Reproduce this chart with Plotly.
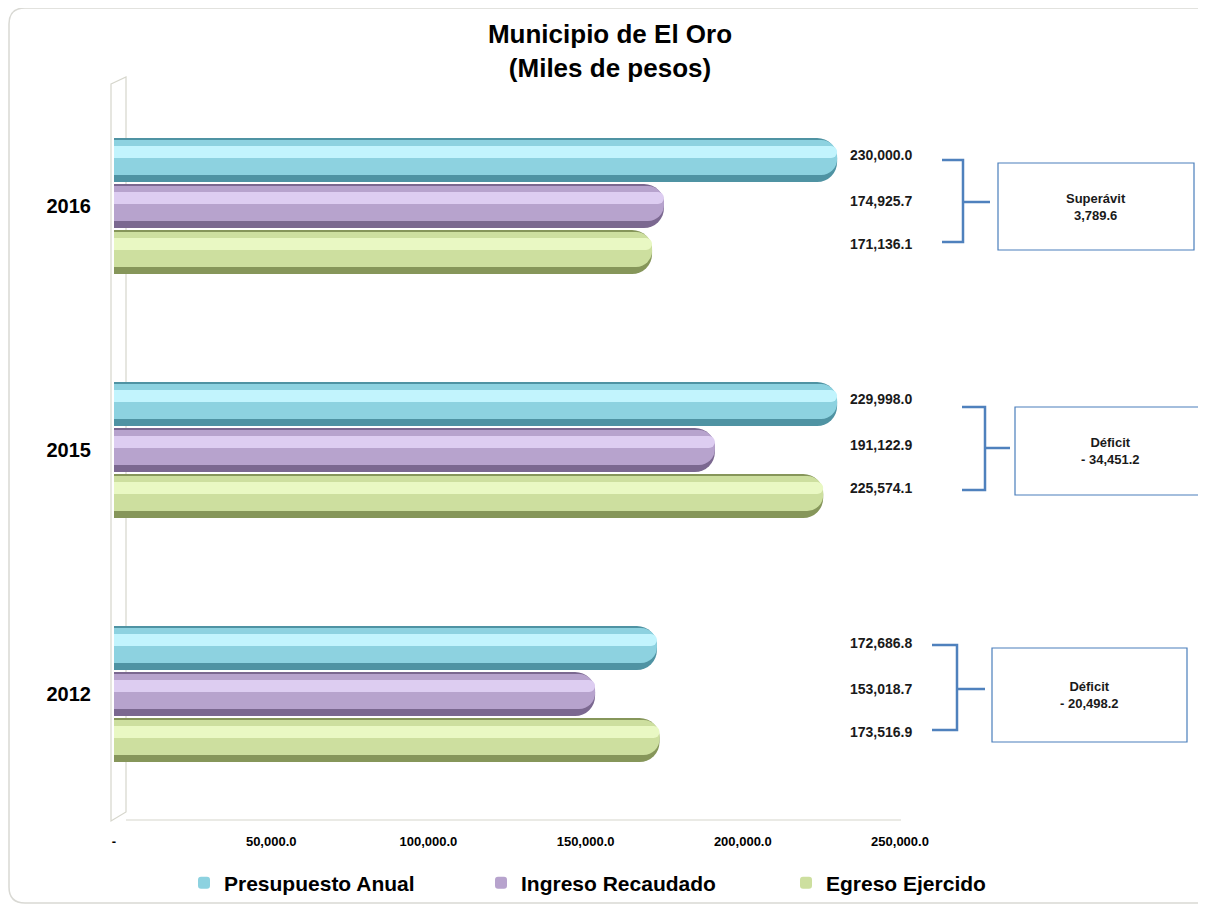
import plotly.graph_objects as go

# ---------------- data ----------------
years = ["2016", "2015", "2012"]
series_names = ["Presupuesto Anual", "Ingreso Recaudado", "Egreso Ejercido"]
presupuesto = [230000.0, 229998.0, 172686.8]
ingreso = [174925.7, 191122.9, 153018.7]
egreso = [171136.1, 225574.1, 173516.9]
x_tick_vals = [0, 50000, 100000, 150000, 200000, 250000]
x_tick_text = ["-", "50,000.0", "100,000.0", "150,000.0", "200,000.0", "250,000.0"]
box_labels = ["Superávit", "Déficit", "Déficit"]

values = [presupuesto, ingreso, egreso]

# ---------------- layout geometry (page pixels) ----------------
PAGE_OFF = 8                      # default body margin of the html page
W_FIG, H_FIG = 1206 - PAGE_OFF, 907 - PAGE_OFF
L, R, T, B = 114, 900, 84, 816    # plot area in page pixels
PW, PH = R - L, B - T
PX_PER_UNIT = PH / 3.0


def X(p):
    return (p - L) / PW


def Y(p):
    return (B - p) / PH


def CX(p):
    return (p - PAGE_OFF) / W_FIG


def CY(p):
    return 1 - (p - PAGE_OFF) / H_FIG


base_cols = ["#4f93a3", "#7b6890", "#86965a"]
body_cols = ["#8dd2e0", "#b7a3cd", "#cddf9f"]
hl_cols = ["#c2f4fd", "#ddcdf1", "#e9f8c3"]
legend_ids = ["legend", "legend2", "legend3"]
legend_x_px = [184, 481, 786]

font_family = "Liberation Sans, Arial, sans-serif"

cat_pos = list(range(len(years)))
bar_w = 44 / PX_PER_UNIT
step = 46 / PX_PER_UNIT

fig = go.Figure()
for i, (name, vals) in enumerate(zip(series_names, values)):
    top_off = (i - 1) * step - bar_w / 2
    fig.add_trace(go.Bar(
        y=cat_pos, x=vals, orientation="h", name=name, width=bar_w, offset=top_off,
        marker=dict(color=base_cols[i], cornerradius=20, line=dict(width=0)),
        showlegend=False, legendgroup=name, hoverinfo="skip", legend=legend_ids[i]))
    fig.add_trace(go.Bar(
        y=cat_pos, x=vals, orientation="h", name=name, width=(44 - 9) / PX_PER_UNIT,
        offset=top_off + 2 / PX_PER_UNIT,
        marker=dict(color=body_cols[i], cornerradius=16, line=dict(width=0)),
        showlegend=True, legendgroup=name, legend=legend_ids[i]))
    fig.add_trace(go.Bar(
        y=cat_pos, x=vals, orientation="h", name=name, width=12 / PX_PER_UNIT,
        offset=top_off + 8 / PX_PER_UNIT,
        marker=dict(color=hl_cols[i], cornerradius=6, line=dict(width=0)),
        showlegend=False, legendgroup=name, hoverinfo="skip", legend=legend_ids[i]))

annotations = []
shapes = []

# value labels in a fixed column
label_off_px = [-51, -5, 38]
for j, yc in enumerate(cat_pos):
    for i in range(3):
        v = values[i][j]
        annotations.append(dict(
            x=X(881), xref="paper", xanchor="center",
            y=yc + label_off_px[i] / PX_PER_UNIT, yref="y", yanchor="middle",
            text="<b>{:,.1f}</b>".format(v), showarrow=False,
            font=dict(size=14, color="#1a1a1a", family=font_family)))

# brackets and boxes (page pixel layout per group)
brackets = [
    # stub_x0, vert_x, mid_x1, top_y, bot_y, mid_y, box(x0,y0,x1,y1)
    (942, 963, 990, 160, 242, 202, (998, 163, 1194, 250)),
    (962, 985, 1010, 407, 490, 448, (1015, 407, 1212, 495)),
    (932, 957, 985, 645, 730, 689, (992, 648, 1187, 742)),
]
bcol = "#4f81bd"
for j, (sx, vx, mx, ty, by, my, box) in enumerate(brackets):
    path = "M {},{} L {},{} L {},{} L {},{}".format(
        X(sx), Y(ty), X(vx), Y(ty), X(vx), Y(by), X(sx), Y(by))
    shapes.append(dict(type="path", xref="paper", yref="paper", path=path,
                       line=dict(color=bcol, width=2.5)))
    shapes.append(dict(type="line", xref="paper", yref="paper",
                       x0=X(vx), y0=Y(my), x1=X(mx), y1=Y(my),
                       line=dict(color=bcol, width=2.5)))
    bx0, by0, bx1, by1 = box
    shapes.append(dict(type="rect", xref="paper", yref="paper",
                       x0=X(bx0), y0=Y(by0), x1=X(bx1), y1=Y(by1),
                       line=dict(color="#4a7ebb", width=1.2), fillcolor="white"))
    diff = ingreso[j] - egreso[j]
    if diff >= 0:
        dtxt = "{:,.1f}".format(diff)
    else:
        dtxt = "- {:,.1f}".format(-diff)
    annotations.append(dict(
        x=X((bx0 + min(bx1, 1206)) / 2), xanchor="center",
        y=Y((by0 + by1) / 2), yanchor="middle", xref="paper", yref="paper",
        text="<b>{}<br>{}</b>".format(box_labels[j], dtxt), showarrow=False,
        font=dict(size=13, color="#1a1a1a", family=font_family)))

# 3D wall and floor
wall = "M {},{} L {},{} L {},{} L {},{} Z".format(
    X(111), Y(84), X(126), Y(77), X(126), Y(812), X(111), Y(821))
shapes.append(dict(type="path", xref="paper", yref="paper", path=wall,
                   line=dict(color="#d6d6cc", width=1.2), layer="below"))
shapes.append(dict(type="line", xref="paper", yref="paper",
                   x0=X(126), y0=Y(820), x1=X(901), y1=Y(820),
                   line=dict(color="#d6d6cc", width=1.2), layer="below"))

# outer rounded border
r = 16
x0b, y0b, x1b, y1b = 9, 8, 1212, 903
border = ("M {},{} L {},{} L {},{} L {},{} Q {},{} {},{} L {},{} Q {},{} {},{} Z").format(
    X(x0b + r), Y(y0b), X(x1b), Y(y0b), X(x1b), Y(y1b), X(x0b + r), Y(y1b),
    X(x0b), Y(y1b), X(x0b), Y(y1b - r), X(x0b), Y(y0b + r),
    X(x0b), Y(y0b), X(x0b + r), Y(y0b))
shapes.append(dict(type="path", xref="paper", yref="paper", path=border,
                   line=dict(color="#d9d9d4", width=1.5), layer="below"))


def legend_cfg(xpx):
    return dict(orientation="h", xref="container", yref="paper",
                x=CX(xpx), xanchor="left", y=Y(883), yanchor="middle",
                font=dict(size=21, color="#000000", family=font_family),
                itemwidth=30, bgcolor="rgba(0,0,0,0)")


fig.update_layout(
    width=W_FIG, height=H_FIG,
    margin=dict(l=L - PAGE_OFF, r=PAGE_OFF + W_FIG - R, t=T - PAGE_OFF,
                b=PAGE_OFF + H_FIG - B, autoexpand=False),
    paper_bgcolor="white", plot_bgcolor="white",
    barmode="overlay",
    font=dict(family=font_family, color="#000000"),
    title=dict(text="<b>Municipio de El Oro<br>(Miles de pesos)</b>",
               xref="container", yref="container",
               x=CX(610), xanchor="center", y=CY(43), yanchor="middle",
               font=dict(size=26, color="#000000", family=font_family)),
    xaxis=dict(range=[0, 250000], tickvals=x_tick_vals,
               ticktext=["<b>{}</b>".format(t) for t in x_tick_text],
               showgrid=False, zeroline=False, showline=False, ticks="",
               ticklabelstandoff=16, automargin=False,
               tickfont=dict(size=13, color="#000000", family=font_family)),
    yaxis=dict(range=[2.5, -0.5], tickvals=cat_pos,
               ticktext=["<b>{}</b>".format(y) for y in years],
               showgrid=False, zeroline=False, showline=False, ticks="",
               ticklabelstandoff=22, automargin=False,
               tickfont=dict(size=20, color="#000000", family=font_family)),
    legend=legend_cfg(legend_x_px[0]),
    legend2=legend_cfg(legend_x_px[1]),
    legend3=legend_cfg(legend_x_px[2]),
    annotations=annotations, shapes=shapes,
    showlegend=True,
)
fig.for_each_trace(lambda t: t.update(name="<b>{}</b>".format(t.name)))

fig.write_html("out.html")
